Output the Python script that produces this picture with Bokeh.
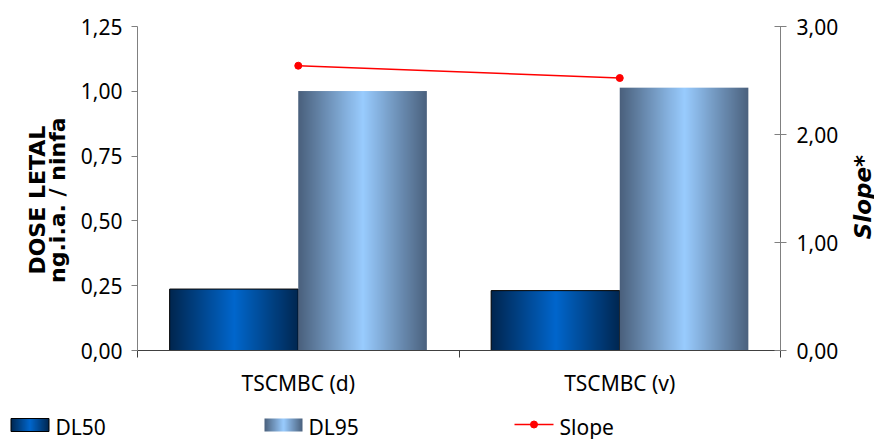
import math
import numpy as np
from bokeh.plotting import figure
from bokeh.models import Range1d, LinearAxis, FixedTicker, CustomJSTickFormatter
from bokeh.layouts import row
from bokeh.core.properties import value
from bokeh.embed import file_html
from bokeh.resources import INLINE

# ---- data -------------------------------------------------------------
categories = ["TSCMBC (d)", "TSCMBC (v)"]
dl50 = [0.237, 0.231]
dl95 = [1.001, 1.014]
slope = [2.637, 2.523]
series_names = ["DL50", "DL95", "Slope"]
left_title = ["DOSE LETAL", "ng.i.a. / ninfa"]
right_title = "Slope*"
left_ticks = [0.0, 0.25, 0.5, 0.75, 1.0, 1.25]
right_ticks = [0.0, 1.0, 2.0, 3.0]

FONT = "Noto Sans"
BOLD_FONT = "DejaVu Sans"
BAR_W = 0.4          # width of each bar, in category units
DL50_EDGE, DL50_MID = "#00264f", "#0066cc"
DL95_EDGE, DL95_MID = "#4a607c", "#99ccff"
SLOPE_COLOR = "#ff0000"
FRAME_H, TOP, BOTTOM = 324, 26, 50


def hex_rgb(h):
    h = h.lstrip("#")
    return [int(h[i:i + 2], 16) for i in (0, 2, 4)]


def gradient_strip(edge, mid, n=256):
    """One-row RGBA image fading edge -> mid -> edge across its width."""
    u = (np.arange(n) + 0.5) / n
    t = 1.0 - np.abs(2.0 * u - 1.0)
    e = np.array(hex_rgb(edge), dtype=float)
    m = np.array(hex_rgb(mid), dtype=float)
    rgb = e[None, :] + (m - e)[None, :] * t[:, None]
    img = np.empty((1, n), dtype=np.uint32)
    view = img.view(dtype=np.uint8).reshape((1, n, 4))
    view[0, :, 0:3] = np.round(rgb).astype(np.uint8)
    view[0, :, 3] = 255
    return img


def side_strip(width, y_range):
    """Narrow blank figure beside the chart, used for a rotated axis title."""
    f = figure(frame_width=width, frame_height=FRAME_H,
               x_range=Range1d(0, width), y_range=y_range,
               output_backend="svg", toolbar_location=None, title=None,
               x_axis_type=None, y_axis_type=None,
               min_border_left=0, min_border_right=0,
               min_border_top=TOP, min_border_bottom=BOTTOM,
               outline_line_color=None)
    f.xgrid.visible = False
    f.ygrid.visible = False
    return f


centers = np.arange(len(categories)) + 0.5
grad50 = gradient_strip(DL50_EDGE, DL50_MID)
grad95 = gradient_strip(DL95_EDGE, DL95_MID)

# ---- main chart -------------------------------------------------------
p = figure(frame_width=643, frame_height=FRAME_H,
           x_range=Range1d(0, len(categories)), y_range=Range1d(0, 1.25),
           output_backend="svg", toolbar_location=None, title=None,
           min_border_left=67, min_border_right=64,
           min_border_top=TOP, min_border_bottom=BOTTOM,
           outline_line_color=None, background_fill_color="white")
p.xgrid.visible = False
p.ygrid.visible = False
p.extra_y_ranges = {"slope": Range1d(0, 3)}

# DL50 bars (left of each category centre) with black outline
p.image_rgba(image=[grad50] * len(categories), x=list(centers - BAR_W), y=[0] * len(categories),
             dw=[BAR_W] * len(categories), dh=dl50)
p.quad(left=centers - BAR_W, right=centers, bottom=0, top=dl50,
       fill_alpha=0, line_color="black", line_width=1)

# DL95 bars (right of each category centre)
p.image_rgba(image=[grad95] * len(categories), x=list(centers), y=[0] * len(categories),
             dw=[BAR_W] * len(categories), dh=dl95)

# Slope on the secondary axis
p.line(centers, slope, y_range_name="slope", line_color=SLOPE_COLOR, line_width=1.6)
p.scatter(centers, slope, y_range_name="slope", size=7,
          fill_color=SLOPE_COLOR, line_color=SLOPE_COLOR)

comma_fmt = CustomJSTickFormatter(code="return tick.toFixed(2).replace('.', ',');")

# left axis
ya = p.yaxis[0]
ya.ticker = FixedTicker(ticks=left_ticks)
ya.formatter = comma_fmt
ya.axis_line_color = "#808080"
ya.major_tick_line_color = "#808080"
ya.major_tick_out = 6
ya.major_tick_in = 0
ya.major_label_standoff = 9
ya.major_label_text_font = FONT
ya.major_label_text_font_size = "21px"
ya.major_label_text_color = "black"

# right axis
ra = LinearAxis(y_range_name="slope", ticker=FixedTicker(ticks=right_ticks),
                formatter=comma_fmt)
ra.axis_line_color = "#808080"
ra.major_tick_line_color = "#808080"
ra.major_tick_out = 6
ra.major_tick_in = 6
ra.major_label_standoff = 10
ra.major_label_text_font = FONT
ra.major_label_text_font_size = "21px"
ra.major_label_text_color = "black"
p.add_layout(ra, "right")

# category axis: labels at centres, tick marks at the category boundaries
xa = p.xaxis[0]
xa.ticker = FixedTicker(ticks=list(centers), minor_ticks=list(range(len(categories) + 1)))
xa.formatter = CustomJSTickFormatter(args=dict(names=categories),
                                     code="return names[Math.round(tick - 0.5)];")
xa.axis_line_color = "#404040"
xa.major_tick_out = 0
xa.major_tick_in = 0
xa.minor_tick_out = 7
xa.minor_tick_in = 0
xa.minor_tick_line_color = "#404040"
xa.major_label_standoff = 11
xa.major_label_text_font = FONT
xa.major_label_text_font_size = "21px"
xa.major_label_text_color = "black"

# ---- axis titles, both reading bottom to top --------------------------
lt = side_strip(70, Range1d(0, 1.25))
lt.text(x=[37, 57], y=[0.58, 0.58], text=left_title, angle=math.pi / 2,
        text_align="center", text_baseline="middle",
        text_font=value(BOLD_FONT), text_font_size=value("22px"),
        text_font_style="bold", text_color="black")

rt = side_strip(30, Range1d(0, 3))
rt.text(x=[18], y=[1.42], text=[right_title], angle=math.pi / 2,
        text_align="center", text_baseline="middle",
        text_font=value(BOLD_FONT), text_font_size=value("23px"),
        text_font_style="bold italic", text_color="black")

chart = row(lt, p, rt, spacing=0)

# ---- legend strip -----------------------------------------------------
leg = figure(width=874, height=39, x_range=Range1d(0, 874), y_range=Range1d(0, 39),
             output_backend="svg", toolbar_location=None, title=None,
             x_axis_type=None, y_axis_type=None, min_border=0,
             min_border_left=0, min_border_right=0, min_border_top=0, min_border_bottom=0,
             outline_line_color=None)
leg.xgrid.visible = False
leg.ygrid.visible = False

sw_x = [10.5, 264]
leg.image_rgba(image=[grad50, grad95], x=sw_x, y=[8, 8], dw=[38, 38], dh=[13, 13])
leg.quad(left=[sw_x[0]], right=[sw_x[0] + 38], bottom=[8], top=[21],
         fill_alpha=0, line_color="black")
leg.line([514, 553], [15, 15], line_color=SLOPE_COLOR, line_width=1.6)
leg.scatter([533.5], [15], size=7, fill_color=SLOPE_COLOR, line_color=SLOPE_COLOR)
leg.text(x=[55, 308, 559], y=[13, 13, 13], text=series_names,
         text_font=value(FONT), text_font_size=value("21px"),
         text_baseline="middle", text_align="left", text_color="black")

open("out.html", "w").write(file_html([chart, leg], INLINE))
